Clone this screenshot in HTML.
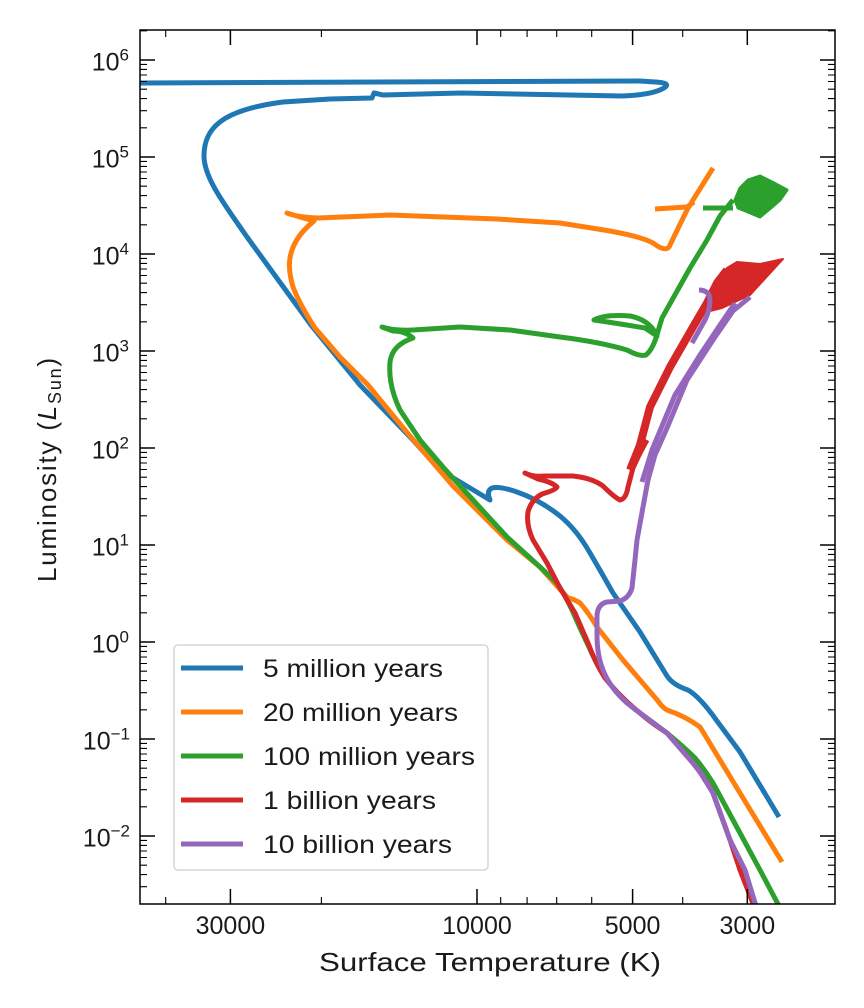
<!DOCTYPE html>
<html><head><meta charset="utf-8"><style>
html,body{margin:0;padding:0;background:#fff;}
svg{display:block;}
text{font-family:"Liberation Sans",sans-serif;fill:#1a1a1a;}
</style></head><body>
<svg width="864" height="1008" viewBox="0 0 864 1008" xmlns="http://www.w3.org/2000/svg">
<defs><clipPath id="ax"><rect x="140" y="30" width="695" height="874"/></clipPath></defs>
<rect width="864" height="1008" fill="#fff"/>
<g clip-path="url(#ax)" fill="none" stroke-width="5" stroke-linejoin="round" stroke-linecap="butt">
<!-- blue 5 Myr -->
<path stroke="#1f77b4" d="M779,817 L740,752 L717,721 Q700,697 688,690 Q673,685 667,676 L640,632 L613,593 Q600,570 590,553 Q577,530 560,516 Q540,500 517,492 Q500,486 492,488 Q486,491 490,500 Q470,488 440,470 L411,438 L360,385 L311,325 L247,237 C225,205 204,178 204,156 C204,128 222,110 283,102 L330,99 L372,98 L374,93 L383,95 L461,93 L569,95 L622,96 Q650,95 662,89 Q674,83 655,82 L640,81 L130,83"/>
<!-- orange 20 Myr -->
<path stroke="#ff7f0e" d="M782,862 L740,793 L700,727 Q685,716 667,710 Q662,707 658,701 L623,660 L597,627 Q588,612 580,603 Q574,599 568,598 L557,586 L540,567 L507,540 L470,503 L453,486 L410,436 L368,385 L340,357 L315,328 Q300,305 293,287 Q288,270 290,258 Q293,238 314,221 L300,217 L287,213 Q296,217 318,218 L390,215 L497,219 L560,223 L604,230 Q640,236 653,243 Q665,252 669,247 L687,210 L693,200 L713,168"/>
<polyline stroke="#ff7f0e" points="655,209 687,207 694,202"/>
<!-- green 100 Myr -->
<path stroke="#2ca02c" d="M779,906 L760,870 L740,833 L713,783 Q705,770 695,758 Q685,748 667,733 L640,713 Q625,702 615,690 Q602,675 595,660 L580,628 L572,610 Q565,595 557,583 L540,567 L507,537 L473,500 L443,467 L420,440 L400,410 Q388,385 390,362 Q392,345 413,338 Q405,331 393,331 L382,327 Q395,331 413,330 L460,327 L510,330 L560,337 Q600,342 627,350 Q640,357 646,355 Q652,350 656,338 L662,318 L690,268 L707,240 L720,216 L733,200"/>
<path stroke="#2ca02c" d="M657,336 Q650,320 630,316 Q605,314 594,320 Q615,323 645,328 Z"/>
<polyline stroke="#2ca02c" points="703,208 733,208"/>
<polygon fill="#2ca02c" stroke="#2ca02c" stroke-width="3" stroke-linejoin="round" points="735,200 740,188 748,180 760,176 772,182 787,190 780,200 772,207 760,217 748,212 738,208"/>
<!-- red 1 Gyr -->
<path stroke="#d62728" d="M754,906 L740,870 L730,840 L713,793 Q705,778 693,763 L667,733 Q650,722 640,713 Q620,697 605,678 Q595,662 588,643 L575,613 L560,588 L547,563 L533,540 Q526,525 528,512 Q531,500 542,494 Q556,490 557,487 Q552,482 538,479 L525,473 Q532,477 545,476 L573,476 Q592,478 603,486 Q614,497 620,500 Q626,499 628,487 L633,468 L640,453 L647,440"/>
<polyline stroke="#d62728" stroke-width="8" points="630,470 640,445 650,407 670,367 693,327 707,303 717,283 727,270"/>
<polygon fill="#d62728" stroke="#d62728" stroke-width="2" stroke-linejoin="round" points="706,312 717,282 727,268 737,262 760,264 783,259 772,271 750,295 722,308"/>
<!-- purple 10 Gyr -->
<path stroke="#9467bd" d="M756,906 L745,870 L730,840 L713,793 L700,772 L693,763 L667,733 Q645,717 627,703 Q610,688 603,670 Q597,655 597,635 L597,615 Q598,604 607,602 L620,601 Q629,598 632,588 L635,560 L637,540 L643,507 L648,480 L655,455 L667,428 L687,380 L713,340 L733,311 L750,297"/>
<polyline stroke="#9467bd" points="642,482 652,450 675,395 700,355 720,325 735,303"/>
<path stroke="#9467bd" d="M692,343 L705,320 Q712,305 709,295 Q706,290 699,290"/>
</g>
<!-- spines -->
<rect x="140" y="30" width="695" height="874" fill="none" stroke="#000" stroke-width="1.5"/>
<!-- ticks -->
<g stroke="#000" fill="none">
<path stroke-width="1.5" d="M230.4,904v-15M477,904v-15M632.6,904v-15M747.3,904v-15M230.4,30v15M477,30v15M632.6,30v15M747.3,30v15
M140,60h15M140,157h15M140,254h15M140,351h15M140,448h15M140,545h15M140,642h15M140,739h15M140,836h15
M835,60h-15M835,157h-15M835,254h-15M835,351h-15M835,448h-15M835,545h-15M835,642h-15M835,739h-15M835,836h-15"/>
<path stroke-width="1.1" d="M165.7,904v-7M321.4,904v-7M500.7,904v-7M527.1,904v-7M556.7,904v-7M591.7,904v-7M682.7,904v-7
M165.7,30v7M321.4,30v7M500.7,30v7M527.1,30v7M556.7,30v7M591.7,30v7M682.7,30v7"/>
<path stroke-width="1.1" d="M140,30.8h7
M140,127.8h7M140,110.7h7M140,98.6h7M140,89.2h7M140,81.5h7M140,75h7M140,69.4h7M140,64.4h7
M140,224.8h7M140,207.7h7M140,195.6h7M140,186.2h7M140,178.5h7M140,172h7M140,166.4h7M140,161.4h7
M140,321.8h7M140,304.7h7M140,292.6h7M140,283.2h7M140,275.5h7M140,269h7M140,263.4h7M140,258.4h7
M140,418.8h7M140,401.7h7M140,389.6h7M140,380.2h7M140,372.5h7M140,366h7M140,360.4h7M140,355.4h7
M140,515.8h7M140,498.7h7M140,486.6h7M140,477.2h7M140,469.5h7M140,463h7M140,457.4h7M140,452.4h7
M140,612.8h7M140,595.7h7M140,583.6h7M140,574.2h7M140,566.5h7M140,560h7M140,554.4h7M140,549.4h7
M140,709.8h7M140,692.7h7M140,680.6h7M140,671.2h7M140,663.5h7M140,657h7M140,651.4h7M140,646.4h7
M140,806.8h7M140,789.7h7M140,777.6h7M140,768.2h7M140,760.5h7M140,754h7M140,748.4h7M140,743.4h7
M140,886.7h7M140,874.6h7M140,865.2h7M140,857.5h7M140,851h7M140,845.4h7M140,840.4h7"/>
<path stroke-width="1.1" d="M835,30.8h-7
M835,127.8h-7M835,110.7h-7M835,98.6h-7M835,89.2h-7M835,81.5h-7M835,75h-7M835,69.4h-7M835,64.4h-7
M835,224.8h-7M835,207.7h-7M835,195.6h-7M835,186.2h-7M835,178.5h-7M835,172h-7M835,166.4h-7M835,161.4h-7
M835,321.8h-7M835,304.7h-7M835,292.6h-7M835,283.2h-7M835,275.5h-7M835,269h-7M835,263.4h-7M835,258.4h-7
M835,418.8h-7M835,401.7h-7M835,389.6h-7M835,380.2h-7M835,372.5h-7M835,366h-7M835,360.4h-7M835,355.4h-7
M835,515.8h-7M835,498.7h-7M835,486.6h-7M835,477.2h-7M835,469.5h-7M835,463h-7M835,457.4h-7M835,452.4h-7
M835,612.8h-7M835,595.7h-7M835,583.6h-7M835,574.2h-7M835,566.5h-7M835,560h-7M835,554.4h-7M835,549.4h-7
M835,709.8h-7M835,692.7h-7M835,680.6h-7M835,671.2h-7M835,663.5h-7M835,657h-7M835,651.4h-7M835,646.4h-7
M835,806.8h-7M835,789.7h-7M835,777.6h-7M835,768.2h-7M835,760.5h-7M835,754h-7M835,748.4h-7M835,743.4h-7
M835,886.7h-7M835,874.6h-7M835,865.2h-7M835,857.5h-7M835,851h-7M835,845.4h-7M835,840.4h-7"/>
</g>
<!-- x tick labels -->
<g font-size="25" text-anchor="middle">
<text x="230.4" y="934">30000</text>
<text x="477" y="934">10000</text>
<text x="632.6" y="934">5000</text>
<text x="747.3" y="934">3000</text>
</g>
<!-- y tick labels -->
<g font-size="25" text-anchor="end">
<text x="129" y="70.5">10<tspan dy="-10" font-size="17">6</tspan></text>
<text x="129" y="167.5">10<tspan dy="-10" font-size="17">5</tspan></text>
<text x="129" y="264.5">10<tspan dy="-10" font-size="17">4</tspan></text>
<text x="129" y="361.5">10<tspan dy="-10" font-size="17">3</tspan></text>
<text x="129" y="458.5">10<tspan dy="-10" font-size="17">2</tspan></text>
<text x="129" y="555.5">10<tspan dy="-10" font-size="17">1</tspan></text>
<text x="129" y="652.5">10<tspan dy="-10" font-size="17">0</tspan></text>
<text x="130" y="749.5">10<tspan dy="-10" font-size="17">−1</tspan></text>
<text x="130" y="846.5">10<tspan dy="-10" font-size="17">−2</tspan></text>
</g>
<!-- axis labels -->
<text x="490" y="971" font-size="26" text-anchor="middle" textLength="342" lengthAdjust="spacingAndGlyphs">Surface Temperature (K)</text>
<text transform="translate(56,469) rotate(-90)" font-size="26" text-anchor="middle" letter-spacing="1.8">Luminosity (<tspan font-style="italic">L</tspan><tspan font-size="18" dy="5">Sun</tspan><tspan dy="-5">)</tspan></text>
<!-- legend -->
<rect x="174" y="645" width="314" height="225" rx="4" ry="4" fill="#fff" fill-opacity="0.85" stroke="#cfcfcf" stroke-width="1.3"/>
<g stroke-width="5">
<line x1="181" y1="668" x2="243" y2="668" stroke="#1f77b4"/>
<line x1="181" y1="712" x2="243" y2="712" stroke="#ff7f0e"/>
<line x1="181" y1="756" x2="243" y2="756" stroke="#2ca02c"/>
<line x1="181" y1="800" x2="243" y2="800" stroke="#d62728"/>
<line x1="181" y1="844" x2="243" y2="844" stroke="#9467bd"/>
</g>
<g font-size="25">
<text x="263" y="677" textLength="180" lengthAdjust="spacingAndGlyphs">5 million years</text>
<text x="263" y="721" textLength="195" lengthAdjust="spacingAndGlyphs">20 million years</text>
<text x="263" y="765" textLength="212" lengthAdjust="spacingAndGlyphs">100 million years</text>
<text x="263" y="809" textLength="173" lengthAdjust="spacingAndGlyphs">1 billion years</text>
<text x="263" y="853" textLength="189" lengthAdjust="spacingAndGlyphs">10 billion years</text>
</g>
</svg>
</body></html>
